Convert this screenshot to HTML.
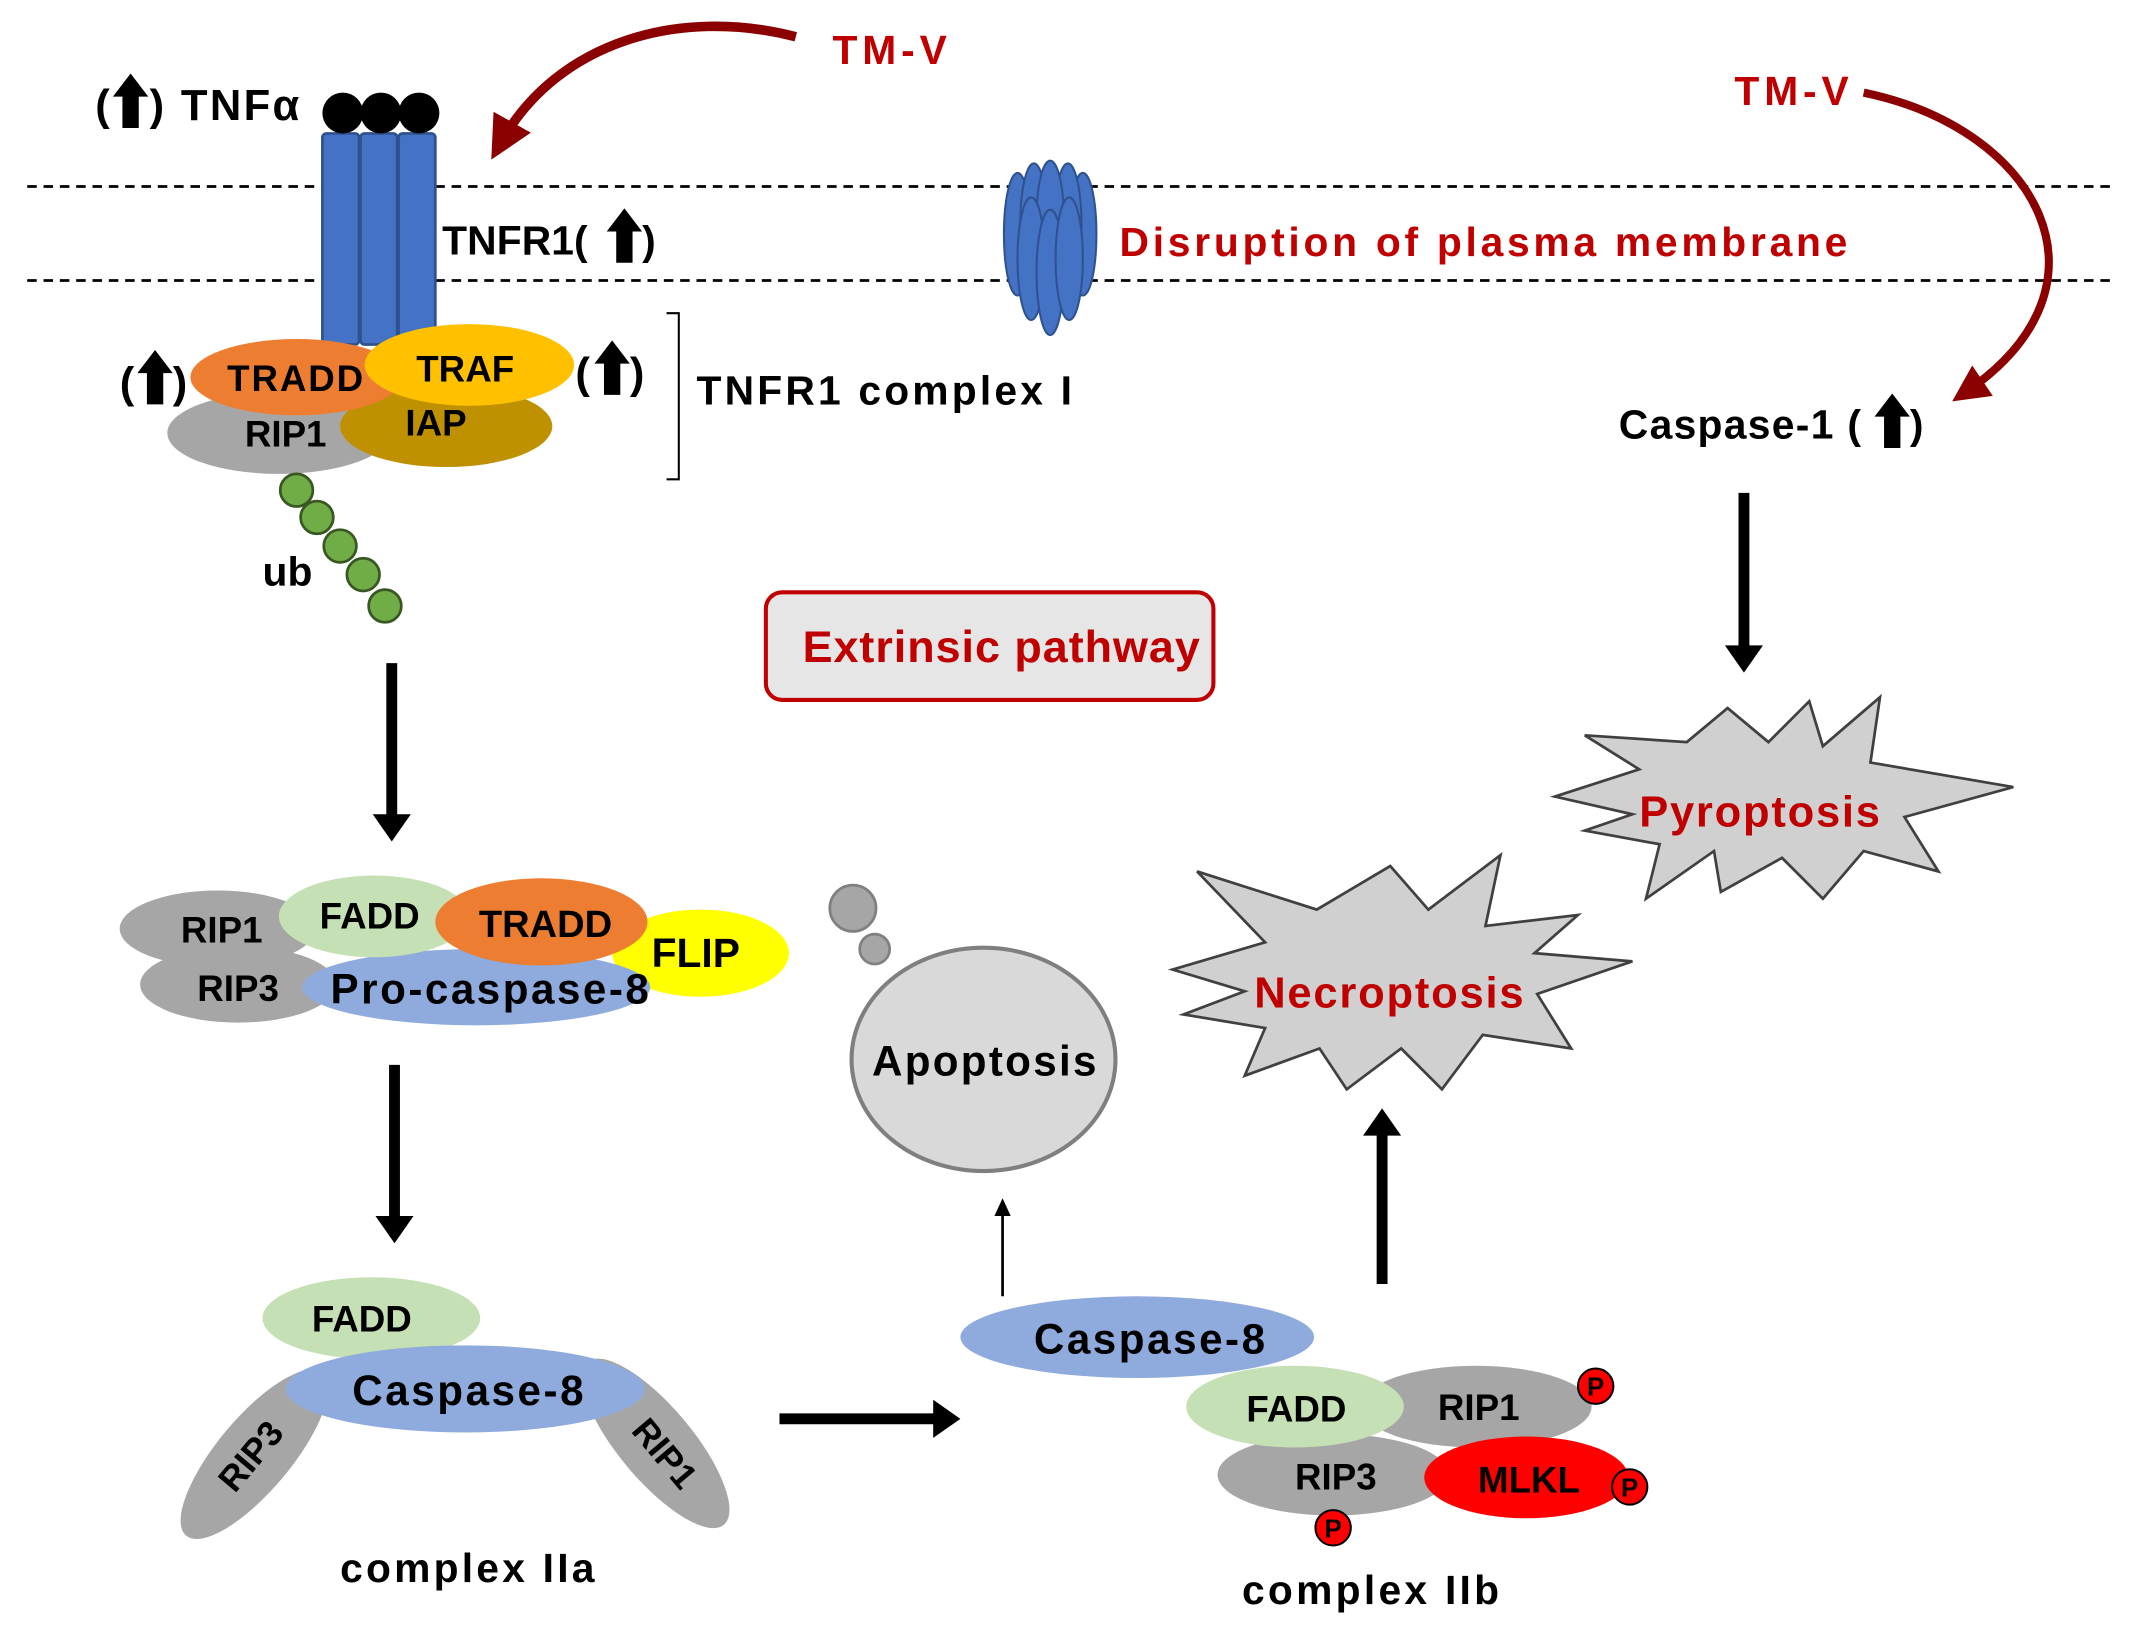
<!DOCTYPE html>
<html><head><meta charset="utf-8"><style>
html,body{margin:0;padding:0;background:#fff}
svg{display:block}
text{font-family:"Liberation Sans",Arial,sans-serif;font-weight:bold}
</style></head><body>
<svg width="2133" height="1634" viewBox="0 0 1568 1200" preserveAspectRatio="none" xmlns="http://www.w3.org/2000/svg">
<defs>
<path id="ua" d="M0,-20 L13,-3 L6,-3 L6,20 L-6,20 L-6,-3 L-13,-3 Z" fill="#000"/>
<marker id="ahR" markerWidth="4.5" markerHeight="4.5" refX="2.5" refY="2.25" orient="auto" markerUnits="strokeWidth"><path d="M0,0 L4.5,2.25 L0,4.5 Z" fill="#8b0000"/></marker>
</defs>
<line x1="20" y1="137" x2="1555" y2="137" stroke="#000" stroke-width="2" stroke-dasharray="7,5"/>
<line x1="20" y1="206" x2="1555" y2="206" stroke="#000" stroke-width="2" stroke-dasharray="7,5"/>

<g fill="#4472c4" stroke="#2f528f" stroke-width="2">
<rect x="237" y="98" width="27" height="155" rx="3"/>
<rect x="265" y="98" width="27" height="155" rx="3"/>
<rect x="293" y="98" width="27" height="155" rx="3"/>
</g>
<circle cx="252" cy="83" r="15" fill="#000"/><circle cx="280" cy="83" r="15" fill="#000"/><circle cx="308" cy="83" r="15" fill="#000"/>
<text x="70" y="88" font-size="32">(</text><use href="#ua" x="96" y="74"/><text x="110" y="88" font-size="32" textLength="110">) TNFα</text>
<text x="325" y="187" font-size="30" textLength="107">TNFR1(</text><use href="#ua" x="459" y="173"/><text x="472" y="187" font-size="30">)</text>

<path d="M585,27 C500,5 410,30 368,105" fill="none" stroke="#8b0000" stroke-width="7" marker-end="url(#ahR)"/>
<text x="612" y="47" font-size="30" fill="#c00000" textLength="84">TM-V</text>
<path d="M1370,68 C1500,95 1560,210 1445,288" fill="none" stroke="#8b0000" stroke-width="6" marker-end="url(#ahR)"/>
<text x="1275" y="77" font-size="30" fill="#c00000" textLength="84">TM-V</text>

<g fill="#4472c4" stroke="#2f528f" stroke-width="1.5">
<ellipse cx="748" cy="172" rx="10" ry="45"/><ellipse cx="796" cy="172" rx="10" ry="45"/>
<ellipse cx="760" cy="165" rx="10" ry="45"/><ellipse cx="785" cy="165" rx="10" ry="45"/>
<ellipse cx="772" cy="160" rx="10" ry="42"/>
<ellipse cx="758" cy="190" rx="10" ry="45"/><ellipse cx="772" cy="200" rx="10" ry="46"/><ellipse cx="786" cy="190" rx="10" ry="45"/>
</g>
<text x="823" y="188" font-size="30" fill="#c00000" textLength="535">Disruption of  plasma membrane</text>

<text x="1190" y="322" font-size="30" textLength="178">Caspase-1 (</text><use href="#ua" x="1391" y="309"/><text x="1404" y="322" font-size="30">)</text>
<line x1="1282" y1="362" x2="1282" y2="478" stroke="#000" stroke-width="8"/>
<path d="M1268,474 L1296,474 L1282,494 Z" fill="#000"/>

<ellipse cx="205" cy="318" rx="82" ry="30" fill="#a6a6a6"/>
<ellipse cx="328" cy="313" rx="78" ry="30" fill="#bf9000"/>
<ellipse cx="218" cy="277" rx="78" ry="28" fill="#ed7d31"/>
<ellipse cx="345" cy="268" rx="77" ry="30" fill="#ffc000"/>
<text x="167" y="287" font-size="27" textLength="100">TRADD</text>
<text x="306" y="280" font-size="27">TRAF</text>
<text x="180" y="328" font-size="27">RIP1</text>
<text x="298" y="320" font-size="27">IAP</text>
<text x="88" y="292" font-size="32">(</text><use href="#ua" x="114" y="277"/><text x="127" y="292" font-size="32">)</text>
<text x="423" y="285" font-size="32">(</text><use href="#ua" x="450" y="270"/><text x="463" y="285" font-size="32">)</text>
<path d="M490,230 L499,230 L499,352 L490,352" fill="none" stroke="#000" stroke-width="1.5"/>
<text x="512" y="297" font-size="30" textLength="276">TNFR1 complex I</text>
<g fill="#70ad47" stroke="#385723" stroke-width="2">
<circle cx="218" cy="360" r="12"/><circle cx="233" cy="380" r="12"/><circle cx="250" cy="401" r="12"/><circle cx="267" cy="422" r="12"/><circle cx="283" cy="445" r="12"/>
</g>
<text x="193" y="430" font-size="30">ub</text>
<line x1="288" y1="487" x2="288" y2="600" stroke="#000" stroke-width="8"/>
<path d="M274,598 L302,598 L288,618 Z" fill="#000"/>

<rect x="563" y="435" width="329" height="79" rx="12" fill="#e6e6e6" stroke="#c00000" stroke-width="3"/>
<text x="590" y="486" font-size="33" fill="#c00000" textLength="292">Extrinsic pathway</text>

<ellipse cx="160" cy="682" rx="72" ry="28" fill="#a6a6a6"/>
<ellipse cx="175" cy="723" rx="72" ry="28" fill="#a6a6a6"/>
<ellipse cx="515" cy="700" rx="65" ry="32" fill="#ffff00"/>
<ellipse cx="350" cy="725" rx="128" ry="28" fill="#8faadc"/>
<ellipse cx="275" cy="673" rx="70" ry="30" fill="#c5e0b4"/>
<ellipse cx="398" cy="677" rx="78" ry="32" fill="#ed7d31"/>
<text x="133" y="692" font-size="27">RIP1</text>
<text x="145" y="735" font-size="27">RIP3</text>
<text x="235" y="682" font-size="27">FADD</text>
<text x="352" y="688" font-size="28">TRADD</text>
<text x="479" y="710" font-size="30">FLIP</text>
<text x="243" y="737" font-size="31" textLength="234">Pro-caspase-8</text>
<line x1="290" y1="782" x2="290" y2="895" stroke="#000" stroke-width="8"/>
<path d="M276,893 L304,893 L290,913 Z" fill="#000"/>

<ellipse cx="187" cy="1068" rx="78" ry="27" fill="#a6a6a6" transform="rotate(-50 187 1068)"/>
<ellipse cx="482" cy="1060" rx="78" ry="27" fill="#a6a6a6" transform="rotate(50 482 1060)"/>
<text x="185" y="1078" font-size="26" text-anchor="middle" transform="rotate(-50 185 1070)">RIP3</text>
<text x="488" y="1076" font-size="26" text-anchor="middle" transform="rotate(50 488 1068)">RIP1</text>
<ellipse cx="273" cy="968" rx="80" ry="30" fill="#c5e0b4"/>
<ellipse cx="342" cy="1020" rx="132" ry="32" fill="#8faadc"/>
<text x="266" y="978" font-size="27" text-anchor="middle">FADD</text>
<text x="259" y="1032" font-size="31" textLength="170">Caspase-8</text>
<text x="250" y="1162" font-size="30" textLength="187">complex IIa</text>
<line x1="573" y1="1042" x2="688" y2="1042" stroke="#000" stroke-width="8"/>
<path d="M686,1028 L686,1056 L706,1042 Z" fill="#000"/>

<circle cx="627" cy="667" r="17" fill="#a6a6a6" stroke="#808080" stroke-width="2"/>
<circle cx="643" cy="697" r="11" fill="#a6a6a6" stroke="#808080" stroke-width="2"/>
<ellipse cx="723" cy="778" rx="97" ry="82" fill="#d9d9d9" stroke="#7f7f7f" stroke-width="3"/>
<text x="641" y="790" font-size="31" textLength="165">Apoptosis</text>
<line x1="737" y1="952" x2="737" y2="892" stroke="#000" stroke-width="2"/>
<path d="M731,893 L743,893 L737,880 Z" fill="#000"/>

<ellipse cx="836" cy="982" rx="130" ry="30" fill="#8faadc"/>
<text x="760" y="994" font-size="31" textLength="170">Caspase-8</text>
<ellipse cx="1085" cy="1033" rx="85" ry="30" fill="#a6a6a6"/>
<ellipse cx="980" cy="1083" rx="85" ry="30" fill="#a6a6a6"/>
<ellipse cx="1122" cy="1085" rx="75" ry="30" fill="#ff0000"/>
<ellipse cx="952" cy="1033" rx="80" ry="30" fill="#c5e0b4"/>
<text x="953" y="1044" font-size="27" text-anchor="middle">FADD</text>
<text x="1087" y="1043" font-size="27" text-anchor="middle">RIP1</text>
<text x="982" y="1094" font-size="27" text-anchor="middle">RIP3</text>
<text x="1124" y="1096" font-size="27" text-anchor="middle">MLKL</text>
<circle cx="1173" cy="1018" r="13" fill="#ff0000" stroke="#000" stroke-width="1.5"/><text x="1173" y="1025" text-anchor="middle" font-size="19">P</text>
<circle cx="1198" cy="1092" r="13" fill="#ff0000" stroke="#000" stroke-width="1.5"/><text x="1198" y="1099" text-anchor="middle" font-size="19">P</text>
<circle cx="980" cy="1122" r="13" fill="#ff0000" stroke="#000" stroke-width="1.5"/><text x="980" y="1129" text-anchor="middle" font-size="19">P</text>
<text x="913" y="1178" font-size="30" textLength="189">complex IIb</text>
<line x1="1016" y1="943" x2="1016" y2="832" stroke="#000" stroke-width="8"/>
<path d="M1002,834 L1030,834 L1016,814 Z" fill="#000"/>

<polygon points="862,712 930,692 880,640 968,668 1022,636 1050,668 1103,628 1092,680 1160,672 1128,700 1200,706 1130,730 1155,770 1090,760 1060,800 1030,770 990,800 970,770 915,790 930,755 870,745 915,728" fill="#d0d0d0" stroke="#404040" stroke-width="2"/>
<text x="922" y="740" font-size="32" fill="#c00000" textLength="198">Necroptosis</text>
<polygon points="1143,585 1205,565 1165,540 1240,545 1270,520 1300,545 1330,515 1340,548 1382,512 1375,560 1480,578 1400,600 1425,640 1370,625 1340,660 1310,630 1265,655 1260,625 1210,660 1220,620 1165,610 1200,598" fill="#d0d0d0" stroke="#404040" stroke-width="2"/>
<text x="1205" y="607" font-size="32" fill="#c00000" textLength="177">Pyroptosis</text>
</svg>
</body></html>
